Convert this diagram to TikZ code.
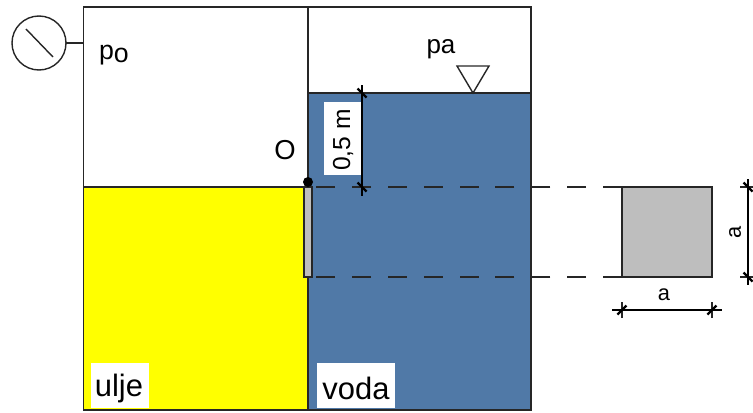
\documentclass[tikz,border=0pt]{standalone}
\usepackage{fontspec}
\setmainfont{Liberation Sans}
\definecolor{voda}{HTML}{5079A7}
\definecolor{ploca}{HTML}{BEBEBE}
\definecolor{ulje}{HTML}{FFFF00}
\tikzset{
  wall/.style={draw=black!85, line width=0.55pt, outer sep=0pt},
  thin line/.style={draw=black!85, line width=0.4pt, outer sep=0pt},
  cut/.style={draw=black!85, line width=0.45pt, dash pattern=on 5.4pt off 4.8pt},
  tick/.style={draw=black, line width=0.65pt},
  whitebox/.style={fill=white, inner sep=0pt},
}
\newcommand{\fsize}[1]{\fontsize{#1}{#1}\selectfont}
\newcommand{\dimtick}[2]{\draw[tick,shift={(#1)},rotate=#2] (-0.045,-0.045) -- (0.045,0.045);}

\begin{document}
\begin{tikzpicture}[x=1cm,y=1cm]
\useasboundingbox (0,0) rectangle (7.53,4.12);

% tank corners
\coordinate (tl) at (0.835,4.05);
\coordinate (tr) at (5.31,4.05);
\coordinate (bl) at (0.835,0.02);
\coordinate (br) at (5.31,0.02);
\coordinate (dt) at (3.08,4.05);
\coordinate (db) at (3.08,0.02);
\coordinate (oill) at (0.835,2.25);
\coordinate (oilr) at (3.08,2.25);
\coordinate (waterl) at (3.08,3.19);
\coordinate (waterr) at (5.31,3.19);

% liquids
\fill[ulje] (oill) rectangle (db);
\fill[voda] (waterl) rectangle (br);

% labels on white
\node[whitebox, minimum width=0.58cm, minimum height=0.45cm] (uljebox) at (1.20,0.265) {};
\node[font=\fsize{8.8}] (uljetext) at (1.19,0.24) {ulje};
\node[whitebox, minimum width=0.78cm, minimum height=0.45cm] (vodabox) at (3.56,0.265) {};
\node[font=\fsize{8.8}] (vodatext) at (3.56,0.24) {voda};
\node[whitebox, minimum width=0.37cm, minimum height=0.73cm] (dimbox) at (3.425,2.735) {};
\node[font=\fsize{7},rotate=90] (dimtext) at (3.43,2.72) {0,5 m};

% tank
\draw[wall] (tl) -- (tr) -- (br) -- (bl) -- cycle;
\draw[wall] (dt) -- (db);
\draw[wall] (oill) -- (oilr);
\draw[wall] (waterl) -- (waterr);

% gauge
\node[circle, thin line, minimum size=0.54cm, inner sep=0pt] (gauge) at (0.39,3.69) {};
\coordinate (gaugeend) at (0.835,3.69);
\draw[thin line] (gauge) -- (gaugeend);
\draw[thin line] (0.26,3.83) -- (0.53,3.55);

% free surface
\coordinate (s1) at (4.57,3.46);
\coordinate (s2) at (4.89,3.46);
\coordinate (s3) at (4.73,3.19);
\draw[thin line] (s1) -- (s2) -- (s3) -- cycle;

% plate and hinge
\node[fill=ploca, wall, minimum width=0.08cm, minimum height=0.90cm, inner sep=0pt] (plate) at (3.08,1.80) {};
\node[circle, fill=black, minimum size=0.10cm, inner sep=0pt] (hinge) at (3.08,2.30) {};

% section
\node[fill=ploca, wall, minimum width=0.90cm, minimum height=0.90cm, inner sep=0pt] (section) at (6.67,1.80) {};
\draw[cut] (section.north west) -- (plate.north east);
\draw[cut] (section.south west) -- (plate.south east);

% dimensions
\coordinate (h1) at (3.62,3.19);
\coordinate (h2) at (3.62,2.25);
\draw[tick,line width=0.4pt] (3.62,3.27) -- (3.62,2.16);
\draw[thin line] (3.54,3.19) -- (3.70,3.19);
\draw[thin line] (3.54,2.25) -- (3.70,2.25);
\dimtick{h1}{90}
\dimtick{h2}{90}

\coordinate (a1) at (6.22,1.02);
\coordinate (a2) at (7.12,1.02);
\draw[tick,line width=0.4pt] (6.12,1.02) -- (7.22,1.02);
\draw[thin line] (6.22,0.94) -- (6.22,1.10);
\draw[thin line] (7.12,0.94) -- (7.12,1.10);
\dimtick{a1}{0}
\dimtick{a2}{0}

\coordinate (b1) at (7.48,2.25);
\coordinate (b2) at (7.48,1.35);
\draw[tick,line width=0.4pt] (7.48,2.33) -- (7.48,1.27);
\draw[thin line] (7.40,2.25) -- (7.53,2.25);
\draw[thin line] (7.40,1.35) -- (7.53,1.35);
\dimtick{b1}{90}
\dimtick{b2}{90}

% texts
\node[font=\fsize{7.6}] (po) at (1.14,3.57) {p\raisebox{-0.8pt}{o}};
\node[font=\fsize{7.4}] (pa) at (4.41,3.63) {pa};
\node[font=\fsize{7.8}] (o) at (2.85,2.62) {O};
\node[font=\fsize{6.2}] (adown) at (6.64,1.17) {a};
\node[font=\fsize{6.2},rotate=90] (aside) at (7.35,1.80) {a};
\end{tikzpicture}
\end{document}
